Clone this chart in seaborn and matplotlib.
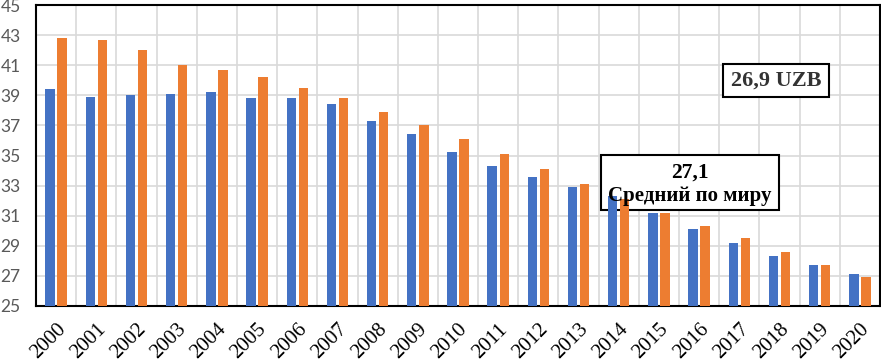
import numpy as np
import pandas as pd
import matplotlib
matplotlib.use("Agg")
import matplotlib.pyplot as plt
import seaborn as sns
from matplotlib.patches import Rectangle

years = [str(y) for y in range(2000, 2021)]
world = [39.4, 38.9, 39.0, 39.1, 39.2, 38.8, 38.8, 38.4, 37.3, 36.4, 35.2,
         34.3, 33.6, 32.9, 32.3, 31.2, 30.1, 29.2, 28.3, 27.7, 27.1]
uzb = [42.8, 42.7, 42.0, 41.0, 40.7, 40.2, 39.5, 38.8, 37.9, 37.0, 36.1,
       35.1, 34.1, 33.1, 32.1, 31.2, 30.3, 29.5, 28.6, 27.7, 26.9]
series_names = ["Средний по миру", "UZB"]
yticks = list(range(25, 46, 2))

df = pd.DataFrame({
    "year": years * 2,
    "series": [series_names[0]] * len(years) + [series_names[1]] * len(years),
    "value": world + uzb,
})

sns.set_style("white")
plt.rcParams["font.family"] = ["DejaVu Sans"]

fig = plt.figure(figsize=(8.81, 3.64), dpi=100)
ax = fig.add_axes([36 / 881, 58 / 364, 844 / 881, 301 / 364])

sns.barplot(data=df, x="year", y="value", hue="series", order=years,
            hue_order=series_names, palette=["#4472C4", "#ED7D31"],
            saturation=1, width=0.6, gap=0.22, legend=False, ax=ax,
            zorder=3, linewidth=0, errorbar=None)

ax.set_ylim(25, 45)
ax.set_xlim(-0.5, len(years) - 0.5)
ax.set_yticks(yticks)
ax.set_yticklabels([str(v) for v in yticks], fontsize=12.5, color="#595959",
                   family=["Lato", "DejaVu Sans"])
ax.set_xticks(range(len(years)))
ax.set_xticklabels(years, rotation=45, ha="right", rotation_mode="anchor",
                   fontsize=15, family=["Liberation Serif"], color="black")
ax.set_xticks(np.arange(-0.5, len(years), 1), minor=True)
ax.tick_params(axis="both", which="both", length=0)
ax.tick_params(axis="x", pad=10)
ax.tick_params(axis="y", pad=11)
ax.grid(True, axis="y", which="major", color="#D9D9D9", linewidth=1.2, zorder=0)
ax.grid(True, axis="x", which="minor", color="#D9D9D9", linewidth=1.2, zorder=0)
ax.grid(False, axis="x", which="major")
ax.set_axisbelow(True)
ax.set_xlabel("")
ax.set_ylabel("")
for s in ax.spines.values():
    s.set_visible(True)
    s.set_color("black")
    s.set_linewidth(1.5)

# annotation boxes
ax.add_patch(Rectangle((0.814, 0.694), 0.1256, 0.11, transform=ax.transAxes,
                       facecolor="white", edgecolor="black", linewidth=1.5,
                       zorder=2))
ax.text(0.877, 0.749, "26,9 UZB", transform=ax.transAxes, ha="center",
        va="center", fontsize=16, fontweight="bold", color="#333333",
        family=["Liberation Serif"], zorder=5)

ax.add_patch(Rectangle((0.669, 0.319), 0.211, 0.183, transform=ax.transAxes,
                       facecolor="white", edgecolor="black", linewidth=1.5,
                       zorder=2))
ax.text(0.775, 0.442, "27,1", transform=ax.transAxes, ha="center",
        va="center", fontsize=15.5, fontweight="bold", color="black",
        family=["Liberation Serif"], zorder=5)
ax.text(0.775, 0.365, "Средний по миру", transform=ax.transAxes, ha="center",
        va="center", fontsize=15, fontweight="bold", color="black",
        family=["Liberation Serif"], zorder=5)

fig.savefig("out.png", dpi=100)
